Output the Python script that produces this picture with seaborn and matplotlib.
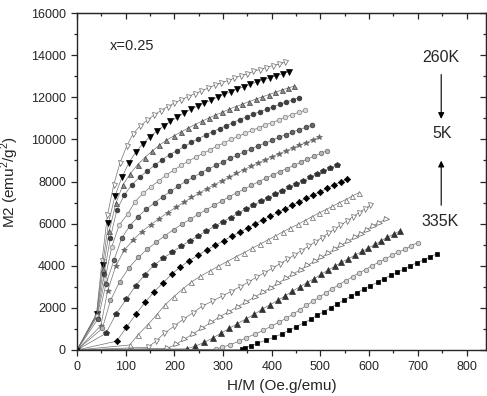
import numpy as np
import pandas as pd
import matplotlib
matplotlib.use('Agg')
import matplotlib.pyplot as plt
from matplotlib.ticker import MultipleLocator
import seaborn as sns

# applied field steps (Oe), same for every isotherm
field = [1667, 3333, 5000, 6667, 8333, 10000, 11667, 13333, 15000, 16667,
         18333, 20000, 21667, 23333, 25000, 26667, 28333, 30000, 31667, 33333,
         35000, 36667, 38333, 40000, 41667, 43333, 45000, 46667, 48333, 50000]

temps = [260, 265, 270, 275, 280, 285, 290, 295, 300, 305, 310, 315, 320, 325, 330, 335]

# magnetization M (emu/g)
m260 = [41.5, 65.0, 80.0, 88.5, 94.3, 98.3, 101.3, 103.1, 104.4, 105.6, 106.6, 107.5, 108.3, 109.0, 109.7,
        110.3, 110.9, 111.5, 112.1, 112.6, 113.1, 113.6, 114.1, 114.5, 115.0, 115.4, 115.8, 116.2, 116.5, 116.9]
m265 = [41.3, 63.5, 77.5, 85.5, 90.5, 94.2, 96.9, 98.9, 100.6, 101.9, 103.1, 104.2, 105.2, 106.1, 106.9,
        107.6, 108.3, 108.9, 109.6, 110.2, 110.7, 111.3, 111.8, 112.3, 112.8, 113.2, 113.7, 114.1, 114.5, 114.95]
m270 = [41.0, 62.0, 75.3, 83.5, 88.5, 91.5, 93.8, 95.6, 97.2, 98.6, 99.8, 100.8, 101.7, 102.6, 103.4,
        104.2, 104.9, 105.6, 106.2, 106.9, 107.5, 108.0, 108.6, 109.1, 109.6, 110.1, 110.6, 111.1, 111.5, 111.96]
m275 = [40.5, 60.0, 73.0, 81.5, 85.8, 88.6, 90.6, 92.2, 93.7, 95.1, 96.3, 97.3, 98.3, 99.3, 100.2,
        101.0, 101.8, 102.5, 103.2, 103.9, 104.6, 105.2, 105.8, 106.4, 106.9, 107.5, 108.0, 108.5, 109.0, 109.45]
m280 = [40.0, 58.0, 70.0, 77.0, 80.3, 83.9, 86.2, 88.0, 89.6, 91.1, 92.4, 93.6, 94.7, 95.7, 96.6,
        97.5, 98.4, 99.2, 100.0, 100.7, 101.4, 102.1, 102.7, 103.4, 103.9, 104.5, 105.1, 105.7, 106.2, 106.7]
m285 = [38.5, 56.0, 65.5, 72.8, 76.8, 79.6, 81.8, 83.6, 85.3, 86.8, 88.2, 89.5, 90.6, 91.7, 92.7,
        93.6, 94.5, 95.4, 96.2, 97.0, 97.7, 98.5, 99.1, 99.8, 100.5, 101.1, 101.7, 102.3, 102.8, 103.4]
m290 = [34.0, 53.0, 63.0, 68.8, 72.3, 75.0, 77.1, 79.0, 80.7, 82.3, 83.7, 85.1, 86.3, 87.5, 88.6,
        89.6, 90.6, 91.6, 92.5, 93.4, 94.2, 95.0, 95.8, 96.5, 97.2, 97.9, 98.6, 99.2, 99.9, 100.5]
m295 = [32.0, 48.5, 57.0, 62.5, 66.3, 69.2, 71.6, 73.7, 75.6, 77.3, 78.8, 80.3, 81.6, 82.9, 84.1,
        85.3, 86.4, 87.4, 88.4, 89.4, 90.3, 91.2, 92.0, 92.8, 93.6, 94.4, 95.2, 95.9, 96.6, 97.3]
m300 = [28.1, 41.5, 49.2, 55.3, 59.8, 63.4, 66.0, 68.2, 70.2, 72.0, 73.6, 75.2, 76.7, 78.0, 79.3,
        80.6, 81.8, 82.9, 84.0, 85.0, 86.0, 87.0, 87.9, 88.8, 89.7, 90.5, 91.4, 92.2, 92.9, 93.7]
m305 = [20.5, 32.8, 41.3, 47.6, 52.6, 56.5, 60.0, 62.8, 65.1, 67.1, 68.9, 70.5, 72.0, 73.5, 74.8,
        76.1, 77.4, 78.6, 79.7, 80.8, 81.9, 82.9, 83.9, 84.9, 85.8, 86.7, 87.6, 88.5, 89.3, 90.1]
m310 = [15.4, 26.7, 34.5, 40.8, 46.2, 50.3, 53.8, 56.8, 59.2, 61.2, 63.1, 64.8, 66.5, 68.0, 69.5,
        70.9, 72.3, 73.6, 74.9, 76.1, 77.2, 78.4, 79.5, 80.6, 81.6, 82.6, 83.6, 84.5, 85.5, 86.4]
m315 = [11.5, 20.5, 28.0, 33.5, 38.2, 42.0, 45.5, 48.1, 50.5, 52.7, 54.8, 56.8, 58.8, 60.6, 62.3,
        64.0, 65.6, 67.2, 68.7, 70.2, 71.6, 73.0, 74.4, 75.7, 77.0, 78.2, 79.5, 80.7, 81.8, 83.0]
m320 = [9.0, 16.4, 22.7, 27.9, 32.4, 36.3, 39.8, 42.7, 45.4, 47.9, 50.2, 52.4, 54.4, 56.4, 58.3,
        60.1, 61.7, 63.4, 64.9, 66.4, 67.8, 69.3, 70.6, 71.9, 73.1, 74.3, 75.6, 76.8, 77.8, 78.8]
m325 = [7.4, 13.7, 19.1, 23.9, 28.2, 32.0, 35.4, 38.4, 41.2, 43.9, 46.3, 48.5, 50.7, 52.8, 54.7,
        56.5, 58.2, 59.9, 61.5, 63.0, 64.5, 65.8, 67.1, 68.4, 69.6, 70.8, 72.0, 73.2, 74.2, 75.3]
m330 = [5.85, 11.2, 15.9, 20.1, 24.0, 27.4, 30.5, 33.5, 36.2, 38.8, 41.3, 43.7, 46.0, 48.1, 50.2,
        52.1, 54.0, 55.7, 57.4, 58.9, 60.5, 61.8, 63.3, 64.5, 65.8, 67.0, 68.2, 69.2, 70.4, 71.4]
m335 = [4.93, 9.66, 14.0, 18.0, 21.5, 24.7, 27.7, 30.6, 33.3, 35.8, 38.2, 40.6, 42.7, 44.8, 46.8,
        48.7, 50.4, 52.2, 53.8, 55.3, 56.7, 58.2, 59.5, 60.8, 62.0, 63.3, 64.4, 65.5, 66.6, 67.6]

isotherms = [m260, m265, m270, m275, m280, m285, m290, m295,
             m300, m305, m310, m315, m320, m325, m330, m335]

# marker, face colour, edge colour, size  (Origin-like symbol cycle)
styles = [('v', 'white', '0.4', 3.6), ('v', 'black', 'black', 4.2), ('^', '0.55', '0.25', 3.6),
          ('o', '0.25', '0.2', 3.4), ('o', '0.85', '0.5', 3.3), ('o', '0.4', '0.2', 3.4),
          ('*', '0.4', '0.4', 4.3), ('o', '0.7', '0.4', 3.3), ('p', '0.2', '0.2', 4.0),
          ('D', 'black', 'black', 3.2), ('^', 'white', '0.4', 3.6), ('v', 'white', '0.4', 3.6),
          ('>', 'white', '0.35', 3.6), ('^', '0.2', '0.2', 4.0), ('o', '0.82', '0.45', 3.3),
          ('s', 'black', 'black', 3.2)]

rows = []
for t, m in zip(temps, isotherms):
    m = np.array(m)
    h = np.array(field)
    rows.append(pd.DataFrame({'T': t, 'hm': np.r_[0, h / m], 'm2': np.r_[0, m ** 2]}))
df = pd.concat(rows, ignore_index=True)

sns.set_style('ticks')
plt.rcParams['font.family'] = ['Liberation Sans', 'DejaVu Sans']
plt.rcParams['mathtext.fontset'] = 'custom'
plt.rcParams['mathtext.rm'] = 'Liberation Sans'

fig = plt.figure(figsize=(4.87, 3.96), dpi=100)
ax = fig.add_axes([77 / 487, 46 / 396, 409 / 487, 337 / 396])

for t, (mk, fc, ec, ms) in zip(temps, styles):
    sub = df[df['T'] == t]
    sns.lineplot(data=sub, x='hm', y='m2', ax=ax, sort=False, estimator=None,
                 color='0.45', lw=0.5, marker=mk, markerfacecolor=fc,
                 markeredgecolor=ec, markersize=ms, markeredgewidth=0.5)

ax.set_xlim(0, 840)
ax.set_ylim(0, 16000)
ax.xaxis.set_major_locator(MultipleLocator(100))
ax.xaxis.set_minor_locator(MultipleLocator(50))
ax.yaxis.set_major_locator(MultipleLocator(2000))
ax.yaxis.set_minor_locator(MultipleLocator(1000))
ax.tick_params(which='both', direction='out', top=False, right=False, labelsize=9, width=0.9)
ax.tick_params(which='major', length=4.5)
ax.tick_params(which='minor', length=2.5)
for sp in ax.spines.values():
    sp.set_visible(True)
    sp.set_linewidth(1.0)

secx = ax.secondary_xaxis('top')
secx.xaxis.set_major_locator(MultipleLocator(100))
secx.xaxis.set_minor_locator(MultipleLocator(50))
secx.tick_params(axis='x', which='both', direction='in', labeltop=False, width=0.9)
secx.tick_params(which='major', length=4.5)
secx.tick_params(which='minor', length=2.5)
secy = ax.secondary_yaxis('right')
secy.yaxis.set_major_locator(MultipleLocator(2000))
secy.yaxis.set_minor_locator(MultipleLocator(1000))
secy.tick_params(axis='y', which='both', direction='in', labelright=False, width=0.9)
secy.tick_params(which='major', length=4.5)
secy.tick_params(which='minor', length=2.5)

ax.set_xlabel('H/M (Oe.g/emu)', fontsize=11, labelpad=4)
ax.set_ylabel('M2 (emu$^2$/g$^2$)', fontsize=11, labelpad=7)

ax.text(68, 14430, 'x=0.25', fontsize=10.5, va='center', ha='left')
ax.text(748, 13900, '260K', fontsize=11.5, va='center', ha='center')
ax.text(750, 10300, '5K', fontsize=11.5, va='center', ha='center')
ax.text(746, 6080, '335K', fontsize=11.5, va='center', ha='center')
arrow = dict(arrowstyle='-|>', color='black', lw=0.8, mutation_scale=9)
ax.annotate('', xy=(748, 10840), xytext=(748, 13210), arrowprops=arrow)
ax.annotate('', xy=(748, 9120), xytext=(748, 6740), arrowprops=arrow)

fig.savefig('out.png', dpi=100)
